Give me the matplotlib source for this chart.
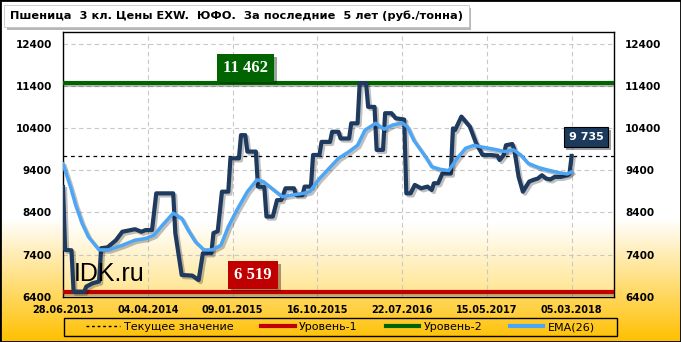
import numpy as np
import matplotlib
matplotlib.use('Agg')
import matplotlib.pyplot as plt
import matplotlib.patheffects as pe
from matplotlib.patches import Rectangle
from matplotlib.lines import Line2D
from matplotlib.colors import LinearSegmentedColormap

plt.rcParams['font.family'] = ['DejaVu Sans']

# данные: недели от 28.06.2013 и цена, руб./тонна
price_weeks = [0, 1, 4, 5, 10, 11, 14, 17, 18, 21,
               25, 28, 32, 34, 37, 39, 42, 44, 52, 53,
               56, 61, 64, 66, 70, 71, 73, 75, 78, 79,
               83, 84, 86, 87, 91, 92, 95, 96, 99, 101,
               103, 105, 109, 110, 113, 114, 117, 118, 121, 122,
               126, 127, 130, 131, 135, 136, 139, 140, 143, 144,
               147, 148, 151, 152, 155, 157, 161, 162, 164, 166,
               169, 172, 174, 175, 177, 179, 183, 184, 185, 188,
               190, 192, 195, 198, 202, 205, 206, 208, 209, 212,
               213, 215, 217, 220, 222, 224, 226, 228, 230, 232,
               235, 238, 239, 240]
price_vals = [9000, 7510, 7500, 6519, 6519, 6640, 6720, 6760, 7550, 7570,
              7740, 7940, 7980, 8000, 7940, 7980, 7980, 8850, 8850, 7910,
              6915, 6900, 6795, 7430, 7430, 7910, 7950, 8890, 8890, 9680,
              9680, 10230, 10230, 9840, 9840, 9010, 9000, 8300, 8300, 8690,
              8690, 8970, 8970, 8810, 8810, 9010, 9010, 9760, 9760, 10070,
              10070, 10310, 10310, 10150, 10150, 10510, 10510, 11462, 11462, 10900,
              10900, 9880, 9880, 10750, 10750, 10630, 10600, 8850, 8850, 9050,
              8970, 9010, 8930, 9090, 9090, 9320, 9320, 10390, 10350, 10670,
              10550, 10430, 10030, 9760, 9760, 9740, 9640, 9760, 9990, 10020,
              9880, 9240, 8890, 9130, 9170, 9200, 9280, 9200, 9180, 9240,
              9240, 9280, 9320, 9735]

ema_weeks = [0, 3.5, 6, 9, 12, 17, 21.5, 28, 34, 39,
             43, 47, 52, 56, 59, 62.5, 66.5, 70.5, 74.5, 78,
             82, 87, 91.5, 94.5, 98.5, 103.5, 108, 113.5, 116.5, 120.5,
             125.5, 130, 135, 139, 142.5, 147.5, 151.5, 155.5, 160, 162.5,
             165.5, 171, 174, 178, 182, 186, 190, 194, 197.5, 204,
             208.5, 212.5, 216, 219.5, 224.5, 229, 234, 238, 240]
ema_vals = [9550, 9010, 8570, 8140, 7820, 7510, 7510, 7620, 7740, 7780,
            7860, 8100, 8380, 8260, 7980, 7700, 7510, 7510, 7620, 8060,
            8450, 8890, 9170, 9130, 8970, 8770, 8810, 8850, 8890, 9170,
            9440, 9680, 9840, 9990, 10350, 10510, 10370, 10470, 10520, 10430,
            10110, 9720, 9480, 9420, 9390, 9680, 9920, 9990, 9950, 9890,
            9840, 9880, 9760, 9560, 9460, 9400, 9340, 9310, 9360]

level1 = 6519
level2 = 11462
current = 9735

date_labels = ['28.06.2013', '04.04.2014', '09.01.2015', '16.10.2015',
               '22.07.2016', '15.05.2017', '05.03.2018']
legend_labels = ['Текущее значение', 'Уровень-1', 'Уровень-2', 'EMA(26)']
title = 'Пшеница  3 кл. Цены EXW.  ЮФО.  За последние  5 лет (руб./тонна)'

W, H = 681, 342
fig = plt.figure(figsize=(W / 100, H / 100), dpi=100)

# фон с градиентом
grad = np.linspace(0, 1, 256).reshape(-1, 1)
bg = fig.add_axes([0, 0, 1, 1], zorder=-10)
bg.axis('off')
cm_bg = LinearSegmentedColormap.from_list('bg', [(0, 'white'), (0.64, 'white'), (1, '#FFC000')])
bg.imshow(grad, cmap=cm_bg, aspect='auto', extent=[0, 1, 0, 1], origin='upper')

ax = fig.add_axes([63 / W, 1 - 296.7 / H, (614 - 63) / W, (296.7 - 32) / H])
cm_ax = LinearSegmentedColormap.from_list('ax', [(0, 'white'), (0.72, 'white'), (1, '#FFE48C')])
ax.imshow(grad, cmap=cm_ax, aspect='auto', extent=[0, 1, 0, 1], origin='upper',
          transform=ax.transAxes, zorder=0)

shadow = [pe.SimpleLineShadow(offset=(1.5, -1.5), shadow_color='black', alpha=0.25), pe.Normal()]

ax.axhline(current, color='black', lw=0.9, ls=(0, (3, 3)), zorder=3)
ax.axhline(level2, color='#006400', lw=3, zorder=4, path_effects=shadow)
ax.axhline(level1, color='#C00000', lw=3, zorder=4, path_effects=shadow)
ax.plot(price_weeks, price_vals, color='#1F3A5F', lw=3, zorder=5, path_effects=shadow)
ax.plot(ema_weeks, ema_vals, color='#4DA6F5', lw=2.5, zorder=6, path_effects=shadow)

ax.set_xlim(0, 260)
ax.set_ylim(6400, 12675)
ax.set_xticks(range(0, 241, 40))
ax.set_xticklabels(date_labels, fontsize=7, fontweight='bold')
ax.set_yticks(range(6400, 12401, 1000))
ax.tick_params(axis='y', labelright=True, labelsize=7.5, pad=8, length=0)
ax.tick_params(axis='x', pad=6, length=0)
for tk in ax.yaxis.get_major_ticks():
    tk.label1.set_fontweight('bold')
    tk.label2.set_fontweight('bold')
ax.set_axisbelow(True)
ax.grid(color='#C8C8C8', ls=(0, (4, 3)), lw=0.8)
for s in ax.spines.values():
    s.set_linewidth(1)

# подписи уровней
box_fx = [pe.SimplePatchShadow(offset=(2, -2), alpha=0.4), pe.Normal()]
t = ax.text(86.1, 11827, '11 462', ha='center', va='center', color='white', fontsize=12,
            fontweight='bold', family='Liberation Serif', zorder=8,
            bbox=dict(boxstyle='square,pad=0.35', fc='#006400', ec='none'))
t.get_bbox_patch().set_path_effects(box_fx)
t = ax.text(89.7, 6921, '6 519', ha='center', va='center', color='white', fontsize=12,
            fontweight='bold', family='Liberation Serif', zorder=8,
            bbox=dict(boxstyle='square,pad=0.35', fc='#C00000', ec='none'))
t.get_bbox_patch().set_path_effects(box_fx)
t = ax.text(246.8, 10191, '9 735', ha='center', va='center', color='white', fontsize=8,
            fontweight='bold', zorder=8,
            bbox=dict(boxstyle='square,pad=0.45', fc='#1B3A5C', ec='black', lw=0.8))
t.get_bbox_patch().set_path_effects(box_fx)

ax.text(5, 6940, 'IDK.ru', ha='left', va='center', fontsize=18, family='Liberation Sans', zorder=7)

# заголовок
t = fig.text(10 / W, 1 - 16 / H, title, ha='left', va='center', fontsize=8.2, fontweight='bold',
             bbox=dict(boxstyle='square,pad=0.5', fc='white', ec='#BBBBBB', lw=0.5))
t.get_bbox_patch().set_path_effects(box_fx)

# легенда
handles = [Line2D([], [], color='black', lw=1, ls=(0, (2, 2))),
           Line2D([], [], color='#C00000', lw=3),
           Line2D([], [], color='#006400', lw=3),
           Line2D([], [], color='#4DA6F5', lw=3)]
fig.legend(handles, legend_labels, loc='center', bbox_to_anchor=(340.5 / W, 1 - 327 / H),
           ncol=4, frameon=False, fontsize=8, handlelength=3, columnspacing=2.5,
           handletextpad=0.4)
fig.add_artist(Rectangle((64 / W, 1 - 336 / H), (617 - 64) / W, 18 / H,
                         transform=fig.transFigure, fill=False, ec='black', lw=1))
fig.add_artist(Rectangle((0, 0), 1, 1, transform=fig.transFigure, fill=False, ec='black', lw=2))

fig.savefig('out.png', dpi=100)
